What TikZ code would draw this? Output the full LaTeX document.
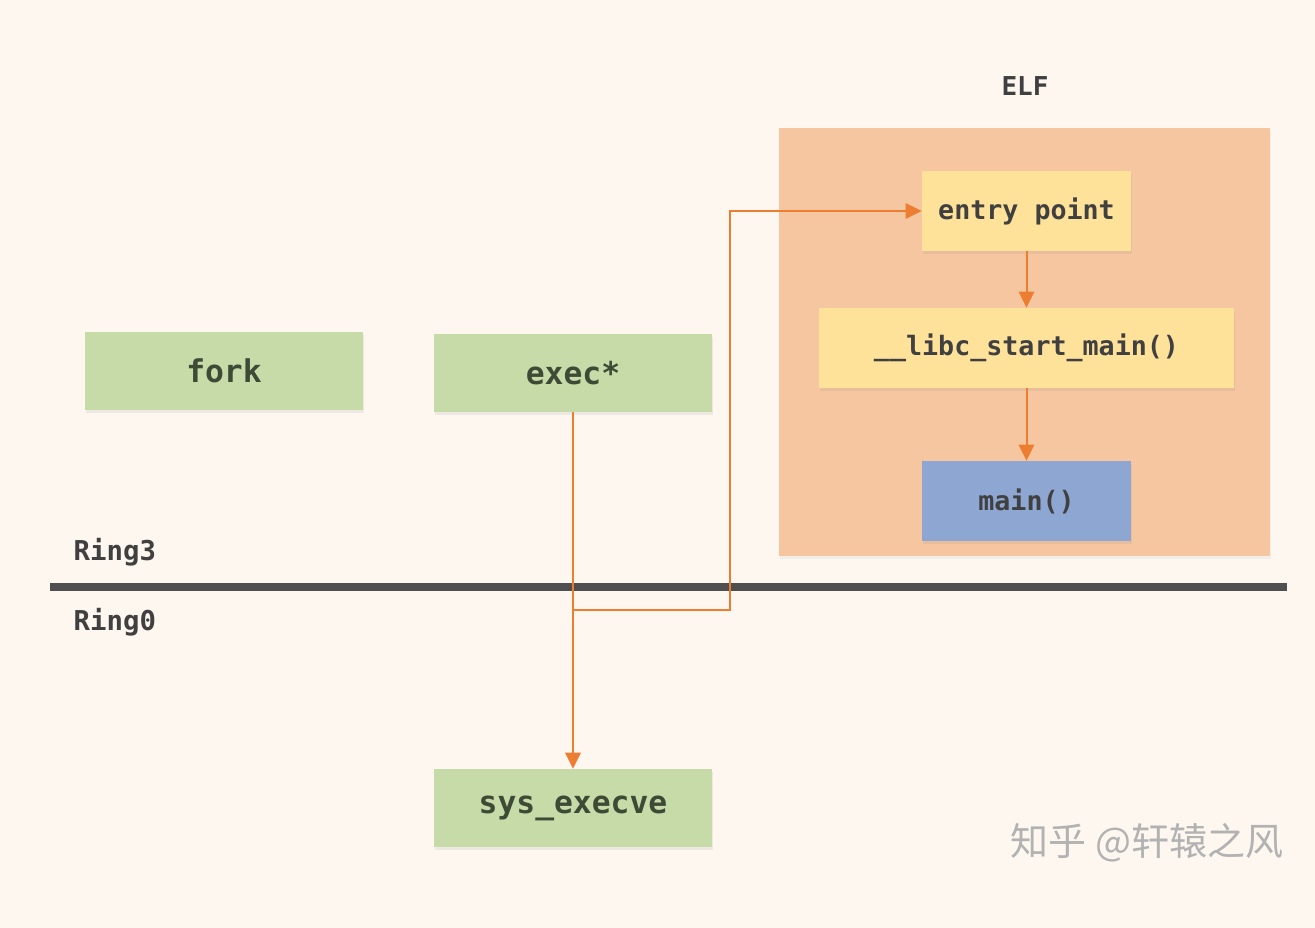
\documentclass[tikz,border=0pt]{standalone}
\usepackage{fontspec}
\setmonofont{DejaVu Sans Mono}
\newfontfamily\cjk{Noto Sans CJK SC}
\usetikzlibrary{arrows.meta,shadows}
\definecolor{bg}{HTML}{FDF7F0}
\definecolor{elfc}{HTML}{F6C6A0}
\definecolor{yel}{HTML}{FFE29A}
\definecolor{blu}{HTML}{8EA6D2}
\definecolor{grn}{HTML}{C6DBA8}
\definecolor{org}{HTML}{ED7D31}
\definecolor{txt}{HTML}{404040}
\definecolor{gtxt}{HTML}{3D4A35}
\definecolor{bar}{HTML}{4F4F4F}
\tikzset{
  box/.style={rectangle, inner sep=0pt, font=\ttfamily\bfseries\fontsize{20}{24}\selectfont, text=txt,
    drop shadow={opacity=0.12, shadow xshift=1pt, shadow yshift=-2.5pt}},
  gbox/.style={box, fill=grn, minimum width=208.5pt, minimum height=58.5pt, text=gtxt,
    font=\ttfamily\bfseries\fontsize{23.5}{28}\selectfont},
  ybox/.style={box, fill=yel, minimum height=60pt},
  lbl/.style={font=\ttfamily\bfseries\fontsize{20.5}{24}\selectfont, text=txt},
  flow/.style={draw=org, line width=1.5pt, -{Triangle[length=12pt,width=11.5pt]}}
}
\begin{document}
\begin{tikzpicture}[x=0.75pt,y=-0.75pt]
\fill[bg] (0,0) rectangle (1315,928);
\useasboundingbox (0,0) rectangle (1315,928);
% ELF container
\node[rectangle, fill=elfc, minimum width=368.25pt, minimum height=321pt, inner sep=0pt,
  drop shadow={opacity=0.08, shadow xshift=1pt, shadow yshift=-2pt}] (elf) at (1024.5,342) {};
\node[lbl, font=\ttfamily\bfseries\fontsize{19.5}{24}\selectfont] (elflbl) at (1025,86) {ELF};
\node[ybox, minimum width=156.75pt] (entry) at (1026.5,211) {entry point};
\node[ybox, minimum width=311.25pt] (libc) at (1026.5,348) {\_\_libc\_start\_main()};
\node[box, fill=blu, minimum width=156.75pt, minimum height=60pt] (mainf) at (1026.5,501) {main()};
% green boxes
\node[gbox] (fork) at (224,371) {fork};
\node[gbox] (exec) at (573,373) {exec*};
\node[gbox] (sys) at (573,808) {sys\_execve};
% ring line
\coordinate (barl) at (50,587);
\coordinate (barr) at (1287,587);
\draw[bar, line width=6pt, drop shadow={opacity=0.1, shadow yshift=-2pt}] (barl) -- (barr);
\node[lbl, anchor=west] (r3) at (69,552) {Ring3};
\node[lbl, anchor=west] (r0) at (69,622) {Ring0};
% connectors
\coordinate (j1) at (573,610);
\coordinate (j2) at (730,610);
\coordinate (j3) at (730,211);
\draw[flow] (exec.south) -- (sys.north);
\draw[flow] (j1) -- (j2) -- (j3) -- (entry.west);
\draw[flow] (entry.south) -- (libc.north);
\draw[flow] (libc.south) -- (mainf.north);
% watermark
\node[font=\cjk\fontsize{28.5}{32}\selectfont, text=black!30] (wm) at (1147,843) {知乎 @轩辕之风};
\end{tikzpicture}
\end{document}
